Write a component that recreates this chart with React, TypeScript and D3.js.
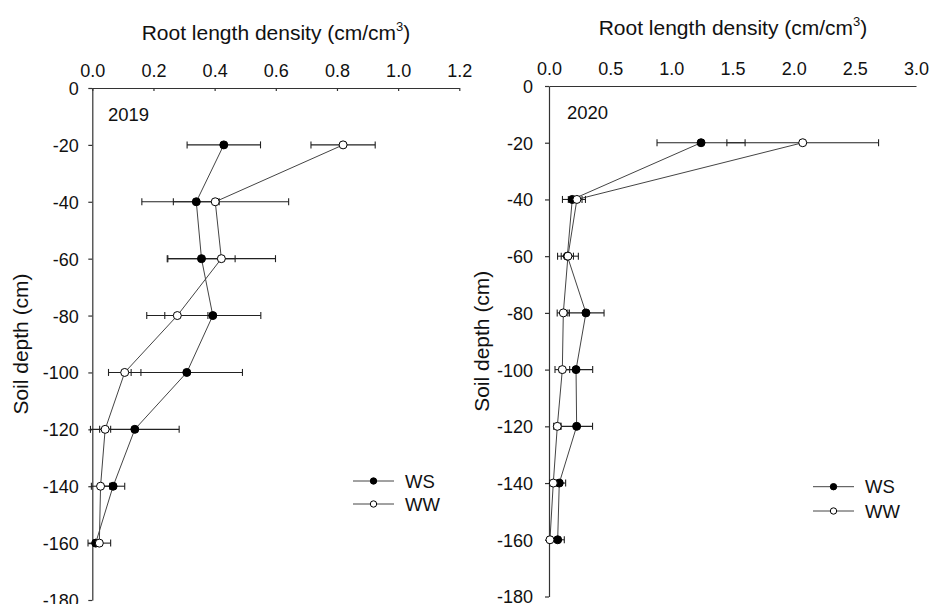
import React, { useRef, useEffect } from "react";
import * as d3 from "d3";

const depths = [-20, -40, -60, -80, -100, -120, -140, -160];
const depthTicks = [0, -20, -40, -60, -80, -100, -120, -140, -160, -180];

const ws2019 = [0.43, 0.34, 0.357, 0.394, 0.309, 0.139, 0.068, 0.011];
const ws2019Err = [0.12, 0.075, 0.11, 0.157, 0.182, 0.145, 0.038, 0.006];
const ww2019 = [0.82, 0.402, 0.422, 0.278, 0.106, 0.042, 0.027, 0.023];
const ww2019Err = [0.105, 0.24, 0.177, 0.1, 0.053, 0.018, 0.03, 0.037];

const ws2020 = [1.243, 0.19, 0.15, 0.302, 0.221, 0.226, 0.084, 0.071];
const ws2020Err = [0.36, 0.08, 0.05, 0.148, 0.136, 0.13, 0.052, 0.054];
const ww2020 = [2.074, 0.228, 0.155, 0.117, 0.109, 0.068, 0.035, 0.008];
const ww2020Err = [0.62, 0.07, 0.085, 0.05, 0.06, 0.03, 0.03, 0.012];

const ticks2019 = [0, 0.2, 0.4, 0.6, 0.8, 1.0, 1.2];
const ticks2020 = [0, 0.5, 1.0, 1.5, 2.0, 2.5, 3.0];

const FONT = "'Liberation Sans', Arial, sans-serif";

const panels = [
  {
    year: "2019",
    ws: ws2019, wsErr: ws2019Err, ww: ww2019, wwErr: ww2019Err,
    xMax: 1.2, xTicks: ticks2019,
    xr: [92.3, 459.3], yr: [88, 600],
    topTick: -3, labelGap: 9.5,
    titleX: 276, titleY: 40, ylabX: 28, yearX: 108, yearY: 121,
    legX: 353, legY: 481, legStep: 23,
  },
  {
    year: "2020",
    ws: ws2020, wsErr: ws2020Err, ww: ww2020, wwErr: ww2020Err,
    xMax: 3.0, xTicks: ticks2020,
    xr: [549, 916], yr: [86, 596.5],
    topTick: 0, labelGap: 12,
    titleX: 733, titleY: 35, ylabX: 489, yearX: 567, yearY: 119,
    legX: 813, legY: 486.7, legStep: 24.3,
  },
];

const ChartPanel = ({ p }: { p: any }) => {
  const ref = useRef<SVGGElement>(null);

  useEffect(() => {
    const g = d3.select(ref.current);
    g.selectAll("*").remove();

    const x = d3.scaleLinear().domain([0, p.xMax]).range(p.xr);
    const y = d3.scaleLinear().domain([0, -180]).range(p.yr);

    // top x axis
    const xa = g
      .append("g")
      .attr("transform", `translate(0, ${p.yr[0]})`)
      .call(
        d3.axisTop(x).tickValues(p.xTicks).tickSizeInner(p.topTick).tickSizeOuter(0)
          .tickPadding(11).tickFormat(d3.format(".1f"))
      );
    // left y axis, plain hyphen for minus
    const ya = g
      .append("g")
      .attr("transform", `translate(${p.xr[0]}, 0)`)
      .call(
        d3.axisLeft(y).tickValues(depthTicks).tickSizeInner(4).tickSizeOuter(0)
          .tickPadding(p.labelGap).tickFormat((d: any) => String(d))
      );
    [xa, ya].forEach((a) => {
      a.attr("font-family", FONT).attr("font-size", 18);
      a.selectAll("path, line").attr("stroke", "#333").attr("stroke-width", 1.2);
      a.selectAll("text").attr("fill", "#111");
    });
    ya.selectAll("text").attr("dy", "0.36em");

    // title
    const t = g
      .append("text")
      .attr("x", p.titleX)
      .attr("y", p.titleY)
      .attr("text-anchor", "middle")
      .attr("font-family", FONT)
      .attr("font-size", 21)
      .attr("fill", "#111");
    t.append("tspan").text("Root length density (cm/cm");
    t.append("tspan").attr("font-size", 13).attr("dy", -9).text("3");
    t.append("tspan").attr("dy", 9).text(")");

    g.append("text")
      .attr("transform", `translate(${p.ylabX}, ${(p.yr[0] + p.yr[1]) / 2}) rotate(-90)`)
      .attr("text-anchor", "middle")
      .attr("font-family", FONT)
      .attr("font-size", 21)
      .attr("fill", "#111")
      .text("Soil depth (cm)");

    g.append("text")
      .attr("x", p.yearX)
      .attr("y", p.yearY)
      .attr("font-family", FONT)
      .attr("font-size", 18.5)
      .attr("fill", "#111")
      .text(p.year);

    const series = [
      { vals: p.ws, err: p.wsErr, fill: "#000", name: "WS" },
      { vals: p.ww, err: p.wwErr, fill: "#fff", name: "WW" },
    ];

    const line = d3
      .line<number>()
      .x((v) => x(v))
      .y((_, i) => y(depths[i]));

    series.forEach((s) => {
      g.append("path")
        .attr("d", line(s.vals))
        .attr("fill", "none")
        .attr("stroke", "#444")
        .attr("stroke-width", 1);
    });

    // error bars
    series.forEach((s) => {
      const eb = g.append("g").attr("stroke", "#222").attr("stroke-width", 1.1);
      s.vals.forEach((v: number, i: number) => {
        const yy = y(depths[i]);
        const lo = x(v - s.err[i]);
        const hi = x(v + s.err[i]);
        eb.append("line").attr("x1", lo).attr("x2", hi).attr("y1", yy).attr("y2", yy);
        [lo, hi].forEach((xx) =>
          eb.append("line").attr("x1", xx).attr("x2", xx).attr("y1", yy - 3.5).attr("y2", yy + 3.5)
        );
      });
    });

    // markers
    series.forEach((s) => {
      g.append("g")
        .selectAll("circle")
        .data(s.vals)
        .enter()
        .append("circle")
        .attr("cx", (v: number) => x(v))
        .attr("cy", (_: number, i: number) => y(depths[i]))
        .attr("r", 4)
        .attr("fill", s.fill)
        .attr("stroke", "#000")
        .attr("stroke-width", 1);
    });

    // legend
    series.forEach((s, i) => {
      const ly = p.legY + i * p.legStep;
      g.append("line")
        .attr("x1", p.legX).attr("x2", p.legX + 41)
        .attr("y1", ly).attr("y2", ly)
        .attr("stroke", "#444").attr("stroke-width", 1);
      g.append("circle")
        .attr("cx", p.legX + 20.5).attr("cy", ly).attr("r", 3.2)
        .attr("fill", s.fill).attr("stroke", "#000").attr("stroke-width", 1);
      g.append("text")
        .attr("x", p.legX + 52).attr("y", ly).attr("dy", "0.36em")
        .attr("font-family", FONT).attr("font-size", 18.5).attr("fill", "#111")
        .text(s.name);
    });
  }, [p]);

  return <g ref={ref}></g>;
};

export default function App() {
  return (
    <svg
      width={930}
      height={604}
      style={{ position: "absolute", left: 0, top: 0, background: "#fff" }}
    >
      {panels.map((p) => (
        <ChartPanel key={p.year} p={p} />
      ))}
    </svg>
  );
}
